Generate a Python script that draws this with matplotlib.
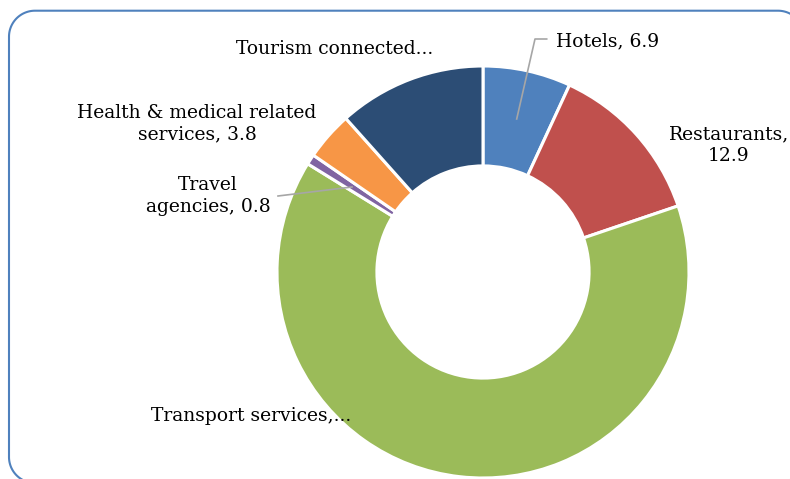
import matplotlib
matplotlib.use("Agg")
import numpy as np
import matplotlib.pyplot as plt
from matplotlib.lines import Line2D
from matplotlib.transforms import IdentityTransform

categories = ["Hotels", "Restaurants", "Transport services", "Travel agencies",
              "Health & medical related services", "Tourism connected"]
values = [6.9, 12.9, 64.0, 0.8, 3.8, 11.6]
colors = ["#4f81bd", "#c0504d", "#9bbb59", "#8064a2", "#f79646", "#2c4d75"]
label_texts = ["Hotels, 6.9", "Restaurants,\n12.9", "Transport services,...",
               "Travel\nagencies, 0.8", "Health & medical related\nservices, 3.8",
               "Tourism connected..."]

W, H = 790, 479
fig = plt.figure(figsize=(W / 100, H / 100), dpi=100)
plt.rcParams['font.family'] = ['DejaVu Serif']
FS = 13.5

# rounded frame in pixel coords (top-left origin converted to bottom-left)
def rounded_frame(x0, y0, x1, y1, r, n=30):
    xs, ys = [], []
    corners = [(x1 - r, y0 + r, -90, 0), (x1 - r, y1 - r, 0, 90),
               (x0 + r, y1 - r, 90, 180), (x0 + r, y0 + r, 180, 270)]
    for ccx, ccy, a0, a1 in corners:
        t = np.radians(np.linspace(a0, a1, n))
        xs.extend(ccx + r * np.cos(t))
        ys.extend(ccy + r * np.sin(t))
    xs.append(xs[0]); ys.append(ys[0])
    return np.array(xs), np.array(ys)

fx, fy = rounded_frame(9, H - 483, 804, H - 10.7, 26)
fig.add_artist(Line2D(fx, fy, transform=IdentityTransform(), color="#4f81bd", lw=1.5))

cx, cy, R = 483, 272, 206
ax = fig.add_axes([(cx - R) / W, (H - cy - R) / H, 2 * R / W, 2 * R / H])
ax.pie(values, colors=colors, startangle=90, counterclock=False, radius=1,
       wedgeprops=dict(width=0.485, edgecolor="white", linewidth=2.2))
ax.set_xlim(-1, 1)
ax.set_ylim(-1, 1)
ax.set_aspect("equal")
ax.axis("off")
for a in ax.patches:
    a.set_clip_on(False)

def d(px, py):
    return ((px - cx) / R, (cy - py) / R)

lc = "#a6a6a6"
# Hotels
ax.plot(*zip(d(546.7, 39), d(535, 39), d(516.7, 119)), color=lc, lw=1.2, clip_on=False)
ax.text(*d(555.5, 41), label_texts[0], ha="left", va="center", fontsize=FS)
# Restaurants
ax.text(*d(729, 145), label_texts[1], ha="center", va="center", fontsize=FS, linespacing=1.25)
# Transport
ax.text(*d(251, 416), label_texts[2], ha="center", va="center", fontsize=FS)
# Travel
ax.plot(*zip(d(278, 196), d(352, 187)), color=lc, lw=1.2, clip_on=False)
ax.text(*d(208, 196), label_texts[3], ha="center", va="center", fontsize=FS, linespacing=1.25)
# Health
ax.text(*d(197, 124), label_texts[4], ha="center", va="center", fontsize=FS, linespacing=1.25)
# Tourism
ax.text(*d(335, 49), label_texts[5], ha="center", va="center", fontsize=FS)

fig.savefig("out.png", dpi=100)
